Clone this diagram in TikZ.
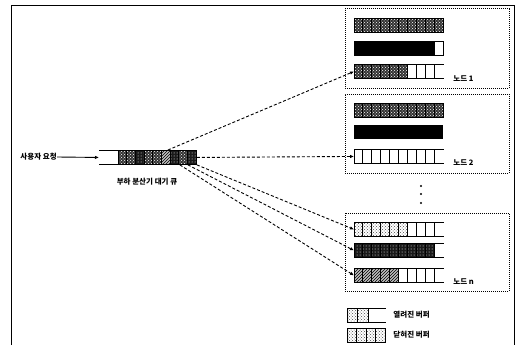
\documentclass[tikz,border=0pt]{standalone}
\usepackage{fontspec}
\newfontfamily\kr{Noto Sans CJK KR}
\usetikzlibrary{patterns,arrows.meta}

% one buffer row: name, left x, top y, number of used cells, cell style
\newcommand{\bufrow}[5]{%
  \node[bufbox] (#1) at (#2,#3) {};
  \ifnum#4>0
    \foreach \c in {1,...,#4}{\path[#5] ({#2+(\c-1)*8.9},#3) rectangle ++(8.9,14);}
  \fi
  \draw (#1.north west) -- (#1.north east) (#1.south west) -- (#1.south east);
  \foreach \c in {0,...,9}{\draw ({#2+\c*8.9},#3) -- ++(0,14);}
}

\tikzset{
  bufbox/.style={minimum width=89pt, minimum height=14pt, inner sep=0pt, anchor=north west},
  grpbox/.style={draw, densely dotted, line width=1pt, inner sep=0pt},
  txt/.style={font=\kr\bfseries\fontsize{7.5}{8}\selectfont, inner sep=0pt},
  darkcell/.style={fill=black!80, postaction={pattern=crosshatch dots, pattern color=white}},
  lightcell/.style={pattern=crosshatch dots, pattern color=black!70},
  gridcell/.style={fill=black!90, postaction={pattern=dots, pattern color=white}},
  hatchcell/.style={fill=black!25, postaction={pattern=north east lines}},
  tip/.style={-{Latex[length=4pt,width=3.5pt]}},
  disp/.style={tip, dash pattern=on 3pt off 2pt, line width=0.9pt},
}

\begin{document}
\begin{tikzpicture}[x=1pt, y=-1pt, line width=0.9pt]
  \useasboundingbox (0,0) rectangle (518,345);
  % frame
  \draw (11,345) -- (11,5) -- (514,5) -- (514,345);

  % node groups
  \node[grpbox, minimum width=164pt, minimum height=79pt] (g1) at (427,48.5) {};
  \node[grpbox, minimum width=164pt, minimum height=79pt] (g2) at (427,133.5) {};
  \node[grpbox, minimum width=164pt, minimum height=78pt] (gn) at (427,252) {};

  % node 1
  \bufrow{b11}{354}{18}{10}{darkcell}
  \draw (b11.north east) -- (b11.south east);
  \fill (354,41) rectangle (435,55);
  \draw (354,41) rectangle (443,55);
  \node[bufbox] (b12) at (354,41) {};
  \bufrow{b13}{354}{64}{6}{darkcell}
  \node[txt, anchor=west] (l1) at (453,79) {노드 1};

  % node 2
  \bufrow{b21}{354}{103}{10}{darkcell}
  \draw (b21.north east) -- (b21.south east);
  \fill (354,125) rectangle (443,139);
  \node[bufbox] (b22) at (354,125) {};
  \bufrow{b23}{354}{149}{0}{}
  \node[txt, anchor=west] (l2) at (453,163) {노드 2};

  % more nodes
  \foreach \y in {186,194,203} \fill (421,\y) circle (1.2);

  % node n
  \bufrow{bn1}{354}{222}{6}{lightcell}
  \bufrow{bn2}{354}{243}{9}{gridcell}
  \bufrow{bn3}{354}{268}{5}{hatchcell}
  \node[txt, anchor=west] (ln) at (453,282) {노드 n};

  % load balancer queue
  \node[minimum width=97pt, minimum height=14pt, inner sep=0pt, anchor=north west] (q) at (99,150) {};
  \foreach \c/\s in {0/darkcell,1/darkcell,2/gridcell,3/darkcell,4/darkcell,5/hatchcell,6/gridcell,7/darkcell,8/gridcell}
    \path[\s] ({118+\c*8.67},150) rectangle ++(8.67,14);
  \foreach \c in {0,...,8} \draw ({118+\c*8.67},150) -- ++(0,14);
  \draw (q.north west) -- (q.north east) -- (q.south east) -- (q.south west);
  \node[txt] (ql) at (147,182) {부하 분산기 대기 큐};

  \node[txt, anchor=west] (usr) at (20,157) {사용자 요청};
  \draw[tip] (usr.east) -- (q.west);

  % dispatch
  \draw[disp] ([xshift=-29pt]q.north east) -- (b13.west);
  \draw[disp] (q.east) -- (b23.west);
  \draw[disp] (q.south east) -- (bn1.west);
  \draw[disp] ([xshift=-9pt]q.south east) -- (bn2.west);
  \draw[disp] ([xshift=-17pt]q.south east) -- (bn3.west);

  % legend
  \node[minimum width=38pt, minimum height=14pt, inner sep=0pt, anchor=north west] (k1) at (347,308) {};
  \foreach \c in {0,1} \path[lightcell] ({347+\c*10.5},308) rectangle ++(10.5,14);
  \foreach \c in {0,1,2} \draw ({347+\c*10.5},308) -- ++(0,14);
  \draw (k1.north west) -- (k1.north east) (k1.south west) -- (k1.south east);
  \node[txt, anchor=west] (k1l) at (393,315) {열려진 버퍼};
  \node[minimum width=38pt, minimum height=14pt, inner sep=0pt, anchor=north west] (k2) at (347,328) {};
  \foreach \c in {0,...,3} \path[lightcell] ({347+\c*9.5},328) rectangle ++(9.5,14);
  \foreach \c in {0,...,3} \draw ({347+\c*9.5},328) -- ++(0,14);
  \draw (k2.north west) rectangle (k2.south east);
  \node[txt, anchor=west] (k2l) at (393,335) {닫혀진 버퍼};
\end{tikzpicture}
\end{document}
